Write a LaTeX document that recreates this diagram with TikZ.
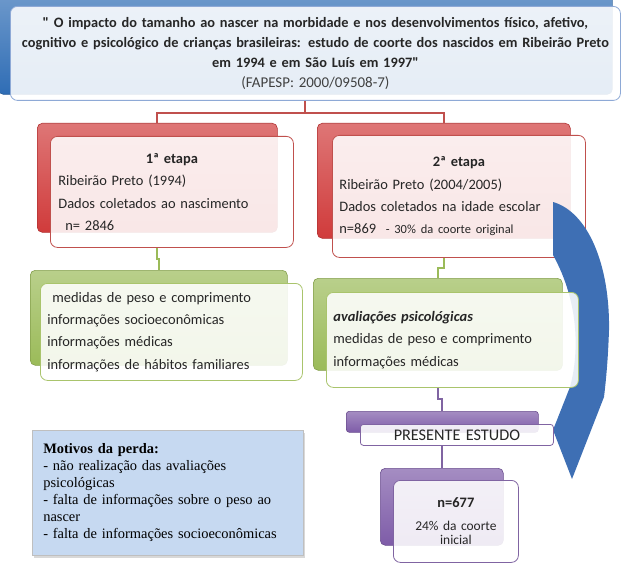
\documentclass[tikz,border=0pt]{standalone}
\usepackage{fontspec}
\setmainfont{Carlito}
\newfontfamily\rawquote{Carlito}[Ligatures=TeXOff]
\newfontfamily\timesfont{Liberation Serif}
\usetikzlibrary{positioning,calc,shadows}

\definecolor{tabblue}{HTML}{2F6DB5}
\definecolor{tabred}{HTML}{D03B3B}
\definecolor{tabgreen}{HTML}{9BBB59}
\definecolor{tabpurple}{HTML}{7E5CA8}
\definecolor{edgeblue}{HTML}{8EA9D6}
\definecolor{edgered}{HTML}{C0504D}
\definecolor{edgegreen}{HTML}{A9C46C}
\definecolor{edgepurple}{HTML}{8064A2}
\definecolor{arrowblue}{HTML}{3E6FB4}
\definecolor{perdablue}{HTML}{C6D9F1}
\definecolor{inktext}{HTML}{262626}

\begin{document}
\begin{tikzpicture}[
    x=1bp, y=-1bp,
    backtab/.style={rounded corners=5bp, draw=#1!85!black, line width=0.6bp,
                    top color=#1!70!white, middle color=#1, bottom color=#1,
                    anchor=north west},
    frontcard/.style={rounded corners=7bp, draw=#1, line width=0.8bp,
                      fill=white, fill opacity=0.88, text opacity=1,
                      anchor=north west, inner ysep=0pt, text=inktext},
    cardtext/.style={font=\fontsize{14.5}{22.5}\selectfont, align=left},
    link/.style={line width=1.8bp, draw=#1},
  ]
  \useasboundingbox (0,0) rectangle (621,581);

  % === Title ===
  \node[backtab=tabblue, minimum width=614bp, minimum height=100bp] (titletab) at (-2,-6) {};
  \node[frontcard=edgeblue, text width=604bp, inner xsep=3bp, minimum height=94bp,
        align=center, font=\fontsize{14.4}{20}\selectfont] (title) at (10,6)
    {\bfseries {\rawquote"} O impacto do tamanho ao nascer na morbidade e nos desenvolvimentos físico, afetivo,\\
     cognitivo e psicológico de crianças brasileiras: estudo de coorte dos nascidos em Ribeirão Preto\\
     em 1994 e em São Luís em 1997{\rawquote"}\\
     \mdseries\fontsize{15}{20}\selectfont\color{black!75}(FAPESP: 2000/09508-7)};

  % === Etapas (red) ===
  \node[backtab=tabred, minimum width=240bp, minimum height=109bp] (tab1) at (37,123) {};
  \node[frontcard=edgered, cardtext, text width=227bp, inner xsep=8bp, minimum height=111bp]
    (etapa1) at ($(tab1.north west)+(13,13)$)
    {\makebox[\linewidth]{\textbf{1ª etapa}}\\
     Ribeirão Preto (1994)\\
     Dados coletados ao nascimento\\
     \hspace*{7bp}n= 2846};

  \node[backtab=tabred, minimum width=253bp, minimum height=115bp] (tab2) at (317,123) {};
  \node[frontcard=edgered, cardtext, text width=239bp, inner xsep=7bp, minimum height=122bp]
    (etapa2) at ($(tab2.north west)+(15,12)$)
    {\makebox[\linewidth]{\textbf{2ª etapa}}\\
     Ribeirão Preto (2004/2005)\\
     Dados coletados na idade escolar\\
     n=869 {\fontsize{12.5}{22.5}\selectfont\ - 30\% da coorte original}};

  % === Curved arrow ===
  \fill[arrowblue] (553,202) .. controls (588,212) and (610,265) .. (609,330)
    .. controls (608,360) and (606,380) .. (604,397) -- (572,479) -- (553,430)
    -- (570,387) .. controls (580,350) and (578,300) .. (553,255) -- cycle;

  % === Dados (green) ===
  \node[backtab=tabgreen, minimum width=257bp, minimum height=95bp] (gtab1) at (30,270) {};
  \node[frontcard=edgegreen, cardtext, text width=248bp, inner xsep=7bp, minimum height=97bp]
    (dados1) at ($(gtab1.north west)+(10,13)$)
    {\hspace*{5bp}medidas de peso e comprimento\\
     informações socioeconômicas\\
     informações médicas\\
     informações de hábitos familiares};

  \node[backtab=tabgreen, minimum width=249bp, minimum height=92bp] (gtab2) at (313,278) {};
  \node[frontcard=edgegreen, cardtext, text width=238bp, inner xsep=7bp, minimum height=95bp]
    (dados2) at ($(gtab2.north west)+(13,14)$)
    {\textbf{\textit{avaliações psicológicas}}\\
     medidas de peso e comprimento\\
     informações médicas};

  % === Presente estudo (purple) ===
  \node[backtab=tabpurple, rounded corners=3bp, minimum width=192bp, minimum height=21bp]
    (ptab) at (346,411) {};
  \node[frontcard=edgepurple, rounded corners=3bp, text width=193bp, inner xsep=0pt,
        minimum height=21bp, align=center, font=\fontsize{16.3}{18}\selectfont]
    (estudo) at ($(ptab.north west)+(14,13)$) {PRESENTE ESTUDO};

  \node[backtab=tabpurple, minimum width=123bp, minimum height=77bp] (ntab) at (380,468) {};
  \node[frontcard=edgepurple, text width=115bp, inner xsep=5bp, minimum height=82bp,
        align=center, font=\fontsize{13.5}{14}\selectfont]
    (amostra) at ($(ntab.north west)+(13,12)$)
    {{\fontsize{14.5}{14}\selectfont\textbf{n=677}}\\[9bp]
     24\% da coorte\\ inicial};

  % === Motivos da perda ===
  \node[anchor=north west, fill=perdablue, draw=black!25, line width=0.6bp,
        drop shadow={shadow xshift=2bp, shadow yshift=-3bp, fill=black!30},
        text width=249bp, inner xsep=11bp, minimum height=125bp, align=left,
        font=\timesfont\fontsize{14.5}{17}\selectfont, text=black]
    (perda) at (32,430)
    {\textbf{Motivos da perda:}\\
     - não realização das avaliações\\
     psicológicas\\
     - falta de informações sobre o peso ao\\
     nascer\\
     - falta de informações socioeconômicas};

  % === Connectors ===
  \draw[link=edgered] (titletab.south |- title.south) -- ++(0,12) -| (tab1.north);
  \draw[link=edgered] (titletab.south |- title.south) -- ++(0,12) -| (tab2.north);
  \draw[link=tabgreen] (tab1.south |- etapa1.south) -- ++(0,11) -| (gtab1.north);
  \draw[link=tabgreen] (tab2.south |- etapa2.south) -- ++(0,10) -| (gtab2.north);
  \draw[link=edgepurple] (gtab2.south |- dados2.south) -- ++(0,11) -| (ptab.north);
  \draw[link=edgepurple] (ptab.south |- estudo.south) -- ++(0,11) -| (ntab.north);

\end{tikzpicture}
\end{document}
